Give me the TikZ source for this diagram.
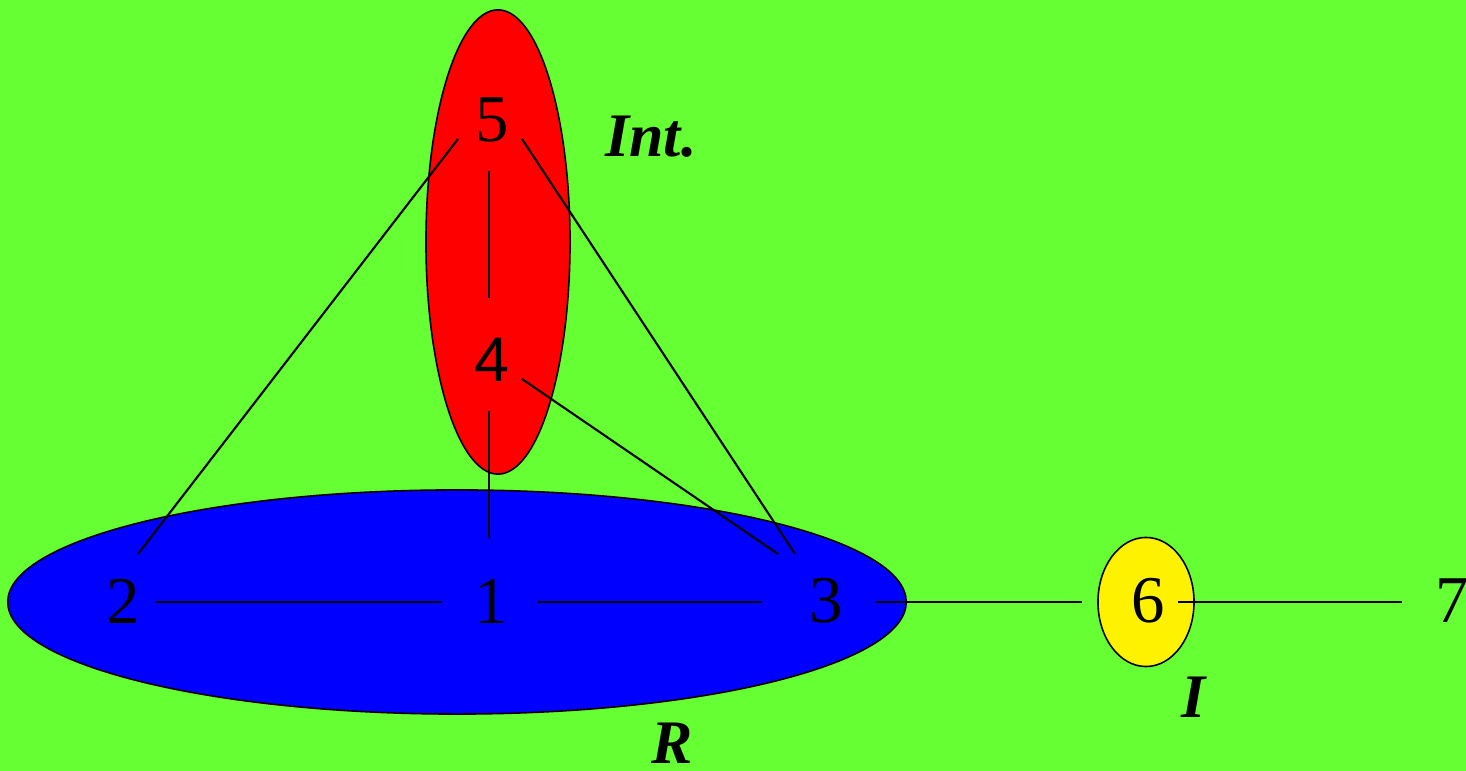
\documentclass[tikz,border=0pt]{standalone}
\usepackage{fontspec}
\setmainfont{Liberation Serif}
\newfontfamily\arialfont{Liberation Sans}
\definecolor{bggreen}{RGB}{102,255,51}
\begin{document}
\begin{tikzpicture}[x=0.01cm,y=-0.01cm,
  num/.style={inner sep=0pt,font=\fontsize{19}{19}\selectfont},
  lab/.style={inner sep=0pt,font=\fontsize{17.6}{17.6}\selectfont\bfseries\itshape},
  edge/.style={line width=0.6pt},
  blob/.style={draw=black,line width=0.45pt}]
\fill[bggreen] (0,0) rectangle (1466,771);
\useasboundingbox (0,0) rectangle (1466,771);
% sets
\draw[blob,fill=red] (498,242) ellipse [x radius=0.72cm, y radius=2.32cm];
\draw[blob,fill=blue] (457,602) ellipse [x radius=4.49cm, y radius=1.12cm];
\draw[blob,fill=yellow] (1146,602) ellipse [x radius=0.48cm, y radius=0.645cm];
% vertices
\node[num] (n5) at (492,120) {5};
\node[num,font=\fontsize{17.9}{17.9}\selectfont\arialfont] (n4) at (492,360) {4};
\node[num] (n2) at (123,601) {2};
\node[num] (n1) at (491,601) {1};
\node[num] (n3) at (826,601) {3};
\node[num] (n6) at (1148,601) {6};
\node[num] (n7) at (1452,601) {7};
% labels
\node[lab] (lint) at (651,137) {Int.};
\node[lab] (li) at (1194,697) {I};
\node[lab] (lr) at (672,743) {R};
% edges
\draw[edge] ([shift={(32,1)}]n2.center) -- ([shift={(-49,1)}]n1.center);
\draw[edge] ([shift={(47,1)}]n1.center) -- ([shift={(-64,1)}]n3.center);
\draw[edge] ([shift={(49,1)}]n3.center) -- ([shift={(-66,1)}]n6.center);
\draw[edge] ([shift={(30,1)}]n6.center) -- ([shift={(-50,1)}]n7.center);
\draw[edge] ([shift={(-3,51)}]n4.center) -- ([shift={(-2,-63)}]n1.center);
\draw[edge] ([shift={(-3,51)}]n5.center) -- ([shift={(-3,-62)}]n4.center);
\draw[edge] ([shift={(-34,19)}]n5.center) -- ([shift={(15,-47)}]n2.center);
\draw[edge] ([shift={(30,19)}]n5.center) -- ([shift={(-31,-47)}]n3.center);
\draw[edge] ([shift={(30,19)}]n4.center) -- ([shift={(-48,-47)}]n3.center);
\end{tikzpicture}
\end{document}
